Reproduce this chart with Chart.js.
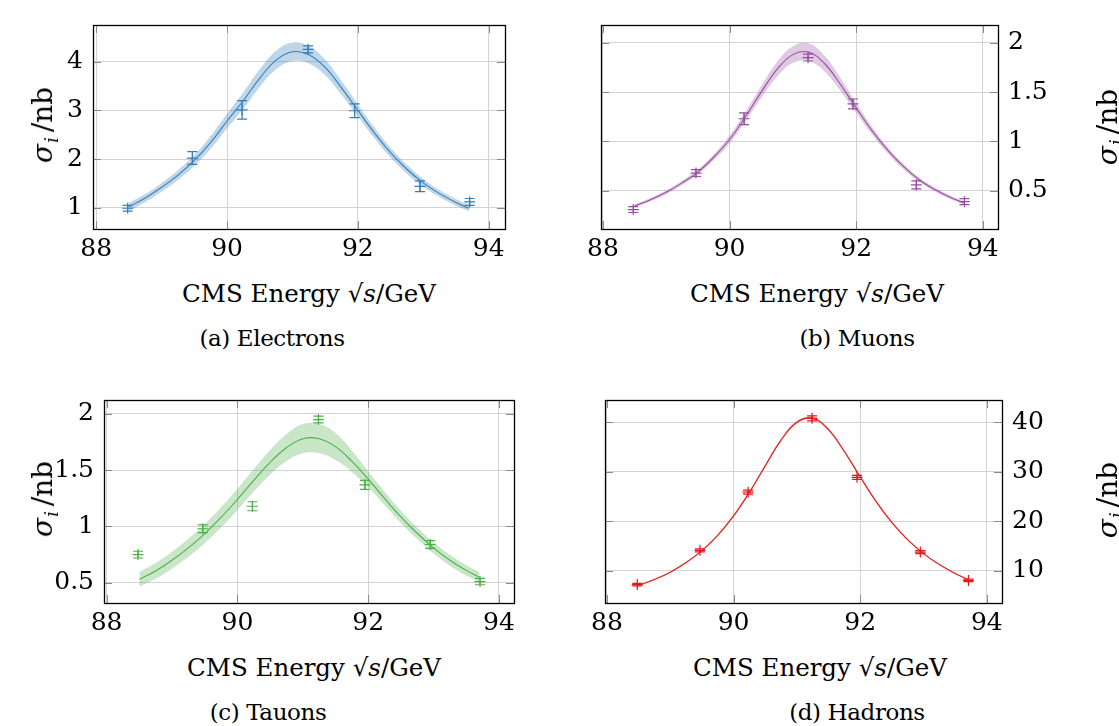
<!DOCTYPE html>
<html lang="en">
<head>
<meta charset="UTF-8">
<title>Cross sections around the Z peak</title>
<script src="https://cdn.jsdelivr.net/npm/chart.js"></script>
<style>
  body { margin: 0; background: #fff; width: 1119px; height: 726px; position: relative; overflow: hidden;
         font-family: "DejaVu Serif", serif; color: #000; }
  canvas { position: absolute; }
  .xt { position: absolute; white-space: nowrap; transform: translateX(-50%); font-size: 24.5px; line-height: 1; }
  .cap { position: absolute; white-space: nowrap; transform: translateX(-50%); font-size: 23px; letter-spacing: -0.4px; line-height: 1; }
  .yt { position: absolute; white-space: nowrap; font-size: 28px; line-height: 1; transform: translate(-50%, -50%) rotate(-90deg); }
  .yt sub { font-size: 18px; vertical-align: -6px; line-height: 0; margin-left: 1px; }
  .yt .sl { margin-left: 5px; }
</style>
</head>
<body>
<canvas id="cE" width="540" height="262" style="left:0;top:0"></canvas>
<canvas id="cM" width="559" height="262" style="left:560px;top:0"></canvas>
<canvas id="cT" width="540" height="262" style="left:0;top:375px"></canvas>
<canvas id="cH" width="559" height="262" style="left:560px;top:375px"></canvas>

<div class="yt" style="left:43px;top:125px"><i>σ</i><sub><i>i</i></sub><span class="sl">/</span>nb</div>
<div class="yt" style="left:1108px;top:127px"><i>σ</i><sub><i>i</i></sub><span class="sl">/</span>nb</div>
<div class="yt" style="left:43px;top:499px"><i>σ</i><sub><i>i</i></sub><span class="sl">/</span>nb</div>
<div class="yt" style="left:1108px;top:500px"><i>σ</i><sub><i>i</i></sub><span class="sl">/</span>nb</div>

<div class="xt" style="left:309px;top:282px">CMS Energy √<i>s</i>/GeV</div>
<div class="xt" style="left:817px;top:282px">CMS Energy √<i>s</i>/GeV</div>
<div class="xt" style="left:314px;top:656px">CMS Energy √<i>s</i>/GeV</div>
<div class="xt" style="left:820px;top:656px">CMS Energy √<i>s</i>/GeV</div>

<div class="cap" style="left:272px;top:327px">(a) Electrons</div>
<div class="cap" style="left:857px;top:327px">(b) Muons</div>
<div class="cap" style="left:268px;top:701px">(c) Tauons</div>
<div class="cap" style="left:857px;top:701px">(d) Hadrons</div>

<script>
  // measured points
  var energies = [88.48, 89.47, 90.23, 91.24, 91.95, 92.95, 93.71];
  var xTicks = [88, 90, 92, 94];

  var sigmaE = [0.99, 2.02, 3.01, 4.25, 2.99, 1.44, 1.12];
  var errE = [0.06, 0.13, 0.19, 0.07, 0.14, 0.11, 0.07];
  var sigmaM = [0.31, 0.68, 1.23, 1.85, 1.38, 0.56, 0.39];
  var errM = [0.03, 0.035, 0.06, 0.035, 0.05, 0.04, 0.03];
  var sigmaT = [0.75, 0.98, 1.18, 1.95, 1.37, 0.84, 0.51];
  var errT = [0.03, 0.035, 0.04, 0.03, 0.04, 0.035, 0.028];
  var sigmaH = [7.25, 14.16, 25.9, 40.8, 28.9, 13.8, 8.08];
  var errH = [0.25, 0.3, 0.4, 0.5, 0.4, 0.3, 0.25];

  // fit curves
  var fitX = [88.5, 88.75, 89, 89.25, 89.5, 89.75, 90, 90.25, 90.5, 90.75, 91, 91.25,
              91.5, 91.75, 92, 92.25, 92.5, 92.75, 93, 93.25, 93.5, 93.7];

  var fitE = [1.02, 1.2, 1.42, 1.67, 1.97, 2.34, 2.78, 3.2, 3.66, 4.03, 4.2, 4.14, 3.88, 3.46, 3.0, 2.54, 2.13, 1.79, 1.51, 1.29, 1.11, 0.99];
  var hiE = [1.10, 1.28, 1.51, 1.77, 2.08, 2.47, 2.93, 3.37, 3.84, 4.22, 4.39, 4.32, 4.04, 3.60, 3.12, 2.65, 2.23, 1.88, 1.59, 1.36, 1.18, 1.05];
  var loE = [0.94, 1.12, 1.33, 1.57, 1.86, 2.21, 2.63, 3.03, 3.48, 3.84, 4.01, 3.96, 3.72, 3.32, 2.88, 2.43, 2.03, 1.70, 1.43, 1.22, 1.04, 0.93];

  var fitM = [0.345, 0.41, 0.485, 0.58, 0.69, 0.84, 1.02, 1.25, 1.50, 1.73, 1.88, 1.905, 1.79, 1.58, 1.34, 1.11, 0.91, 0.745, 0.61, 0.51, 0.43, 0.38];
  var hiM = [0.36, 0.427, 0.505, 0.602, 0.715, 0.87, 1.06, 1.30, 1.56, 1.805, 1.965, 1.995, 1.87, 1.645, 1.39, 1.15, 0.942, 0.772, 0.632, 0.53, 0.447, 0.395];
  var loM = [0.33, 0.393, 0.465, 0.558, 0.665, 0.81, 0.98, 1.20, 1.44, 1.655, 1.795, 1.815, 1.71, 1.515, 1.29, 1.07, 0.878, 0.718, 0.588, 0.49, 0.413, 0.365];

  var fitT = [0.53, 0.605, 0.70, 0.81, 0.935, 1.08, 1.24, 1.41, 1.57, 1.70, 1.78, 1.78, 1.71, 1.58, 1.42, 1.25, 1.085, 0.94, 0.81, 0.70, 0.61, 0.55];
  var hiT = [0.595, 0.675, 0.775, 0.89, 1.02, 1.17, 1.335, 1.51, 1.68, 1.82, 1.91, 1.91, 1.83, 1.675, 1.49, 1.31, 1.14, 0.992, 0.86, 0.748, 0.656, 0.595];
  var loT = [0.465, 0.535, 0.625, 0.73, 0.85, 0.99, 1.145, 1.31, 1.46, 1.58, 1.65, 1.65, 1.59, 1.485, 1.35, 1.19, 1.03, 0.888, 0.76, 0.652, 0.564, 0.505];

  var fitH = [7.1, 8.25, 9.75, 11.7, 14.1, 17.2, 21.1, 25.85, 31.2, 36.4, 40.0, 40.8, 38.5, 34.1, 29.0, 24.05, 19.8, 16.3, 13.5, 11.3, 9.5, 8.3];
  var hiH = [7.2, 8.36, 9.88, 11.85, 14.28, 17.42, 21.35, 26.15, 31.5, 36.7, 40.3, 41.1, 38.8, 34.4, 29.28, 24.3, 20.0, 16.47, 13.64, 11.42, 9.6, 8.39];
  var loH = [7.0, 8.14, 9.62, 11.55, 13.92, 16.98, 20.85, 25.55, 30.9, 36.1, 39.7, 40.5, 38.2, 33.8, 28.72, 23.8, 19.6, 16.13, 13.36, 11.18, 9.4, 8.21];

  var yTicksE = [1, 2, 3, 4];
  var yTicksM = [0.5, 1, 1.5, 2];
  var yTicksT = [0.5, 1, 1.5, 2];
  var yTicksH = [10, 20, 30, 40];

  Chart.defaults.font.family = '"DejaVu Serif", serif';
  Chart.defaults.font.size = 25;
  Chart.defaults.color = '#000';

  function xy(xs, ys) {
    return xs.map((v, i) => ({ x: v, y: ys[i] }));
  }

  // error bars with caps
  const errorBars = {
    id: 'errorBars',
    afterDatasetsDraw(chart) {
      const ctx = chart.ctx, x = chart.scales.x, y = chart.scales.y;
      chart.data.datasets.forEach(ds => {
        if (!ds.errs) return;
        ctx.save();
        ctx.strokeStyle = ds.borderColor;
        ctx.lineWidth = 1.2;
        ds.data.forEach((p, k) => {
          const px = x.getPixelForValue(p.x);
          const t = y.getPixelForValue(p.y + ds.errs[k]);
          const b = y.getPixelForValue(p.y - ds.errs[k]);
          ctx.beginPath();
          ctx.moveTo(px, t); ctx.lineTo(px, b);
          ctx.moveTo(px - 5, t); ctx.lineTo(px + 5, t);
          ctx.moveTo(px - 5, b); ctx.lineTo(px + 5, b);
          ctx.stroke();
        });
        ctx.restore();
      });
    }
  };

  // box and inner tick marks, like pgfplots
  const frame = {
    id: 'frame',
    afterDraw(chart) {
      const ctx = chart.ctx, a = chart.chartArea, x = chart.scales.x, y = chart.scales.y;
      ctx.save();
      ctx.strokeStyle = '#8a8a8a';
      ctx.lineWidth = 1;
      ctx.beginPath();
      x.ticks.forEach(t => {
        const p = Math.round(x.getPixelForValue(t.value)) + 0.5;
        ctx.moveTo(p, a.top); ctx.lineTo(p, a.top + 8);
        ctx.moveTo(p, a.bottom); ctx.lineTo(p, a.bottom - 8);
      });
      y.ticks.forEach(t => {
        const p = Math.round(y.getPixelForValue(t.value)) + 0.5;
        ctx.moveTo(a.left, p); ctx.lineTo(a.left + 8, p);
        ctx.moveTo(a.right, p); ctx.lineTo(a.right - 8, p);
      });
      ctx.stroke();
      ctx.strokeStyle = '#000';
      ctx.lineWidth = 1.3;
      ctx.strokeRect(Math.round(a.left) + 0.5, Math.round(a.top) + 0.5, Math.round(a.right - a.left), Math.round(a.bottom - a.top));
      ctx.restore();
    }
  };

  function panel(id, o) {
    new Chart(document.getElementById(id), {
      type: 'line',
      data: {
        datasets: [
          { data: xy(fitX, o.hi), borderWidth: 0, pointRadius: 0, fill: false, tension: 0.4 },
          { data: xy(fitX, o.lo), borderWidth: 0, pointRadius: 0, fill: '-1', backgroundColor: o.band, tension: 0.4 },
          { data: xy(fitX, o.fit), borderColor: o.color, borderWidth: 1.1, pointRadius: 0, fill: false, tension: 0.4 },
          { data: xy(energies, o.y), showLine: false, pointStyle: 'cross', pointRadius: 5.5, borderWidth: 1.2,
            borderColor: o.color, backgroundColor: o.color, errs: o.err }
        ]
      },
      options: {
        responsive: false,
        animation: false,
        layout: { padding: o.pad },
        plugins: { legend: { display: false }, tooltip: { enabled: false } },
        scales: {
          x: {
            type: 'linear', min: o.xmin, max: o.xmax,
            afterBuildTicks: s => { s.ticks = xTicks.map(v => ({ value: v })); },
            afterFit: s => { s.height = o.xh; },
            ticks: { padding: 5, maxRotation: 0, callback: v => v },
            grid: { color: '#d3d3d3', drawTicks: false },
            border: { display: false }
          },
          y: {
            position: o.side, min: o.ymin, max: o.ymax,
            afterBuildTicks: s => { s.ticks = o.yTicks.map(v => ({ value: v })); },
            afterFit: s => { s.width = o.yw; },
            ticks: { padding: 10, callback: v => v },
            grid: { color: '#d3d3d3', drawTicks: false },
            border: { display: false }
          }
        }
      },
      plugins: [errorBars, frame]
    });
  }

  panel('cE', { y: sigmaE, err: errE, fit: fitE, hi: hiE, lo: loE, yTicks: yTicksE,
    color: '#377eb8', band: 'rgba(55,126,184,0.32)', side: 'left',
    xmin: 87.95, xmax: 94.25, ymin: 0.564, ymax: 4.75,
    pad: { top: 15, right: 35, left: 0, bottom: 0 }, yw: 93, xh: 33 });

  panel('cM', { y: sigmaM, err: errM, fit: fitM, hi: hiM, lo: loM, yTicks: yTicksM,
    color: '#984ea3', band: 'rgba(152,78,163,0.3)', side: 'right',
    xmin: 87.97, xmax: 94.24, ymin: 0.113, ymax: 2.18,
    pad: { top: 15, right: 0, left: 41, bottom: 0 }, yw: 121, xh: 33 });

  panel('cT', { y: sigmaT, err: errT, fit: fitT, hi: hiT, lo: loT, yTicks: yTicksT,
    color: '#4daf4a', band: 'rgba(77,175,74,0.3)', side: 'left',
    xmin: 87.96, xmax: 94.23, ymin: 0.32, ymax: 2.124,
    pad: { top: 15, right: 26, left: 0, bottom: 0 }, yw: 104, xh: 34 });

  panel('cH', { y: sigmaH, err: errH, fit: fitH, hi: hiH, lo: loH, yTicks: yTicksH,
    color: '#e41a1c', band: 'rgba(228,26,28,0.3)', side: 'right',
    xmin: 87.97, xmax: 94.24, ymin: 3.53, ymax: 44.5,
    pad: { top: 14, right: 0, left: 45, bottom: 0 }, yw: 117, xh: 34 });
</script>
</body>
</html>
